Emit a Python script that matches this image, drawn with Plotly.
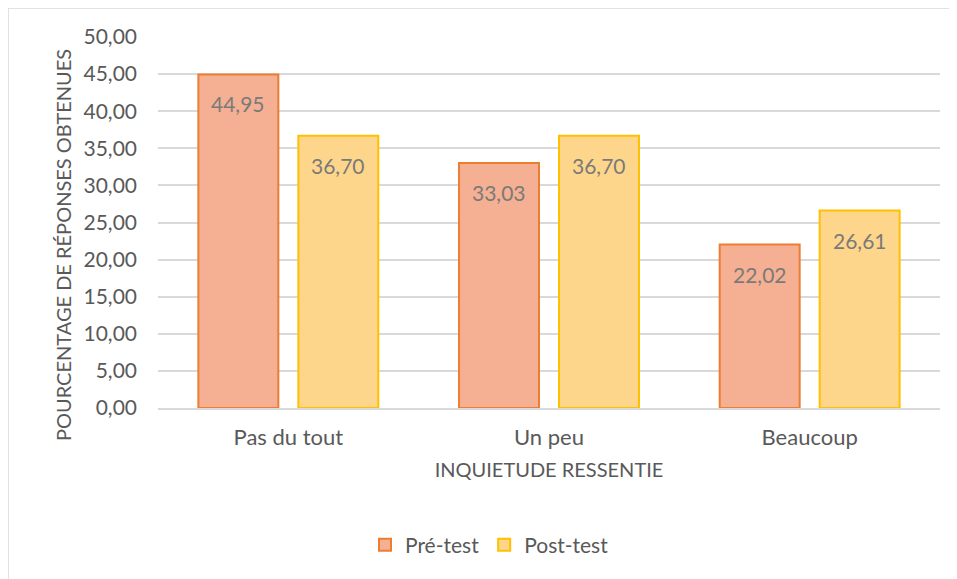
import plotly.graph_objects as go

categories = ["Pas du tout", "Un peu", "Beaucoup"]
pre_test = [44.95, 33.03, 22.02]
post_test = [36.70, 36.70, 26.61]
series_names = ["Pré-test", "Post-test"]
y_title = "POURCENTAGE DE RÉPONSES OBTENUES"
x_title = "INQUIETUDE RESSENTIE"

FONT = "Lato"
GRAY = "#595959"
LABEL = "#7a7a7a"

fig = go.Figure()
fig.add_trace(go.Bar(
    x=categories, y=pre_test, name=series_names[0],
    marker=dict(color="#F5AF92", line=dict(color="#ED7D31", width=2)),
))
fig.add_trace(go.Bar(
    x=categories, y=post_test, name=series_names[1],
    marker=dict(color="#FDD68B", line=dict(color="#FFC000", width=2)),
))

for vals, shift in ((pre_test, -50), (post_test, 50)):
    for c, v in zip(categories, vals):
        fig.add_annotation(
            x=c, y=v, xref="x", yref="y", xshift=shift, yshift=-15,
            yanchor="top", showarrow=False,
            text=f"{v:.2f}".replace(".", ","),
            font=dict(family=FONT, size=21, color=LABEL),
        )

# y-axis title (placed as in the original, slightly below plot centre)
fig.add_annotation(
    x=(62.5 - 158) / 782, y=(408 - 245.5) / 371, xref="paper", yref="paper",
    xanchor="center", yanchor="middle", textangle=-90, showarrow=False,
    text=y_title, font=dict(family=FONT, size=20, color=GRAY),
)

# outer chart border
fig.add_shape(type="rect", xref="paper", yref="paper",
              x0=(8 - 158) / 782, x1=(975 - 158) / 782,
              y0=(408 - 600) / 371, y1=(408 - 8) / 371,
              line=dict(color="#D9D9D9", width=1.5), fillcolor="rgba(0,0,0,0)", layer="below")

fig.update_layout(
    width=957, height=579,
    margin=dict(l=150, r=25, t=29, b=179),
    paper_bgcolor="white", plot_bgcolor="white",
    separators=", ",
    barmode="group", bargap=0.233, bargroupgap=0.2,
    font=dict(family=FONT, size=18, color=GRAY),
    showlegend=True,
    legend=dict(orientation="h", x=(365 - 158) / 782, xanchor="left",
                y=(408 - 545) / 371, yanchor="middle",
                font=dict(family=FONT, size=21, color=GRAY),
                itemwidth=30, tracegroupgap=0),
    xaxis=dict(
        showgrid=False, showline=True, linecolor="#D9D9D9", linewidth=1.5,
        ticks="", ticklabelstandoff=9,
        tickfont=dict(family=FONT, size=22, color=GRAY),
        title=dict(text=x_title, font=dict(family=FONT, size=20, color=GRAY), standoff=14),
        automargin=False,
    ),
    yaxis=dict(
        range=[0, 50], dtick=5, tickformat=".2f",
        showgrid=True, gridcolor="#D9D9D9", gridwidth=1.5,
        zeroline=False, showline=False, ticks="", ticklabelstandoff=20,
        tickfont=dict(family=FONT, size=21, color=GRAY),
        automargin=False,
    ),
)

fig.write_html("out.html")
